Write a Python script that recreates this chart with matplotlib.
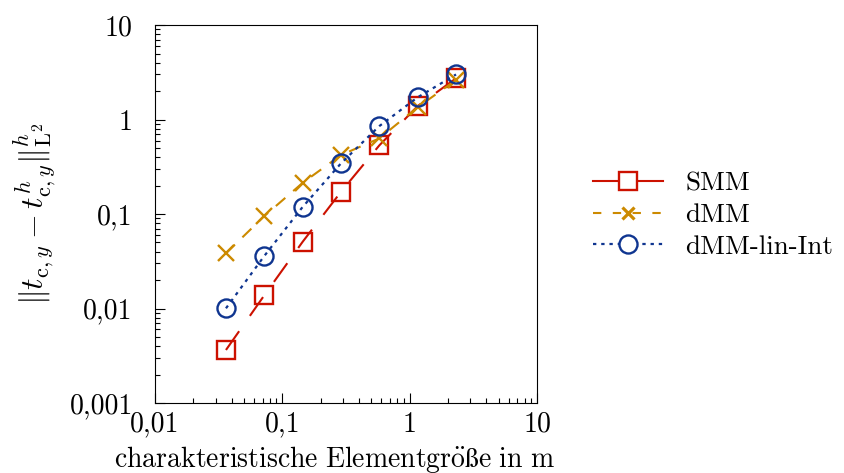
import matplotlib
matplotlib.use("Agg")
import matplotlib.pyplot as plt
from matplotlib.lines import Line2D
from matplotlib.ticker import FixedLocator, FixedFormatter, LogLocator, NullFormatter

plt.rcParams['font.family'] = ['cmr10', 'DejaVu Serif']
plt.rcParams['mathtext.fontset'] = 'cm'
plt.rcParams['axes.unicode_minus'] = False

# Elementgroesse h in m
h = [0.0361, 0.0722, 0.1445, 0.289, 0.578, 1.156, 2.3125]

# Fehlernormen
smm = [0.00364, 0.0138, 0.0509, 0.172, 0.533, 1.39, 2.73]
dmm = [0.0384, 0.0952, 0.214, 0.421, 0.632, 1.35, 2.62]
dmm_lin = [0.01005, 0.036, 0.119, 0.344, 0.853, 1.72, 3.0]

xticks = [0.01, 0.1, 1, 10]
xticklabels = ['0,01', '0,1', '1', '10']
yticks = [0.001, 0.01, 0.1, 1, 10]
yticklabels = ['0,001', '0,01', '0,1', '1', '10']

c_red = '#CC1100'
c_gold = '#CC8A00'
c_blue = '#0F3590'

fig = plt.figure(figsize=(8.45, 4.73), dpi=100)
ax = fig.add_axes([0.1834, 0.148, 0.4521, 0.799])

ax.plot(h, smm, color=c_red, lw=1.5, linestyle=(0, (11, 9)),
        marker='s', ms=13, mew=1.7, fillstyle='none')
ax.plot(h, dmm, color=c_gold, lw=1.5, linestyle=(0, (6, 5)),
        marker='x', ms=11, mew=1.7)
ax.plot(h, dmm_lin, color=c_blue, lw=1.6, linestyle=(0, (1.5, 2.2)),
        marker='o', ms=13, mew=1.7, fillstyle='none')

ax.set_xscale('log')
ax.set_yscale('log')
ax.set_xlim(0.01, 10)
ax.set_ylim(0.001, 10)

ax.xaxis.set_major_locator(FixedLocator(xticks))
ax.xaxis.set_major_formatter(FixedFormatter(xticklabels))
ax.yaxis.set_major_locator(FixedLocator(yticks))
ax.yaxis.set_major_formatter(FixedFormatter(yticklabels))
ax.xaxis.set_minor_locator(LogLocator(base=10, subs=range(2, 10)))
ax.yaxis.set_minor_locator(LogLocator(base=10, subs=range(2, 10)))
ax.xaxis.set_minor_formatter(NullFormatter())
ax.yaxis.set_minor_formatter(NullFormatter())

ax.tick_params(which='both', direction='in', top=False, right=False,
               labelsize=20, width=0.8)
ax.tick_params(which='major', length=7)
ax.tick_params(which='minor', length=3.5)
ax.tick_params(axis='x', which='major', pad=6)
ax.tick_params(axis='y', which='major', pad=16)
for s in ax.spines.values():
    s.set_linewidth(0.8)

xlabel_math = r'$\mathrm{charakteristische\ Elementgr\ddot{o}\ss e\ in\ m}$'
try:
    from matplotlib.mathtext import MathTextParser
    MathTextParser('path').parse(xlabel_math)
    xlabel = xlabel_math
except Exception:
    xlabel = 'charakteristische Elementgröße in m'
ax.set_xlabel(xlabel, fontsize=20)
ax.xaxis.set_label_coords(0.47, -0.108, transform=ax.transAxes)
ax.xaxis.label.set_va('top')
ax.set_ylabel(r'$\Vert t_{\mathrm{c},y} - t_{\mathrm{c},y}^{h} \Vert_{\mathrm{L}^2}^{h}$',
              fontsize=23, labelpad=8)

handles = [
    Line2D([], [], color=c_red, lw=1.5, marker='s', ms=13, mew=1.7,
           markerfacecolor='white'),
    Line2D([], [], color=c_gold, lw=1.5, linestyle=(0, (4, 5.5)), marker='x',
           ms=9, mew=2.3),
    Line2D([], [], color=c_blue, lw=1.6, linestyle=(0, (1.5, 2.2)), marker='o',
           ms=13, mew=1.7, markerfacecolor='white'),
]
labels = ['SMM', 'dMM', 'dMM-lin-Int']
fig.legend(handles, labels, loc='center left', bbox_to_anchor=(0.689, 0.545),
           frameon=False, fontsize=19.5, handlelength=2.6, numpoints=1,
           labelspacing=0.28, handletextpad=0.8, borderaxespad=0)

fig.savefig('out.png', dpi=100)
